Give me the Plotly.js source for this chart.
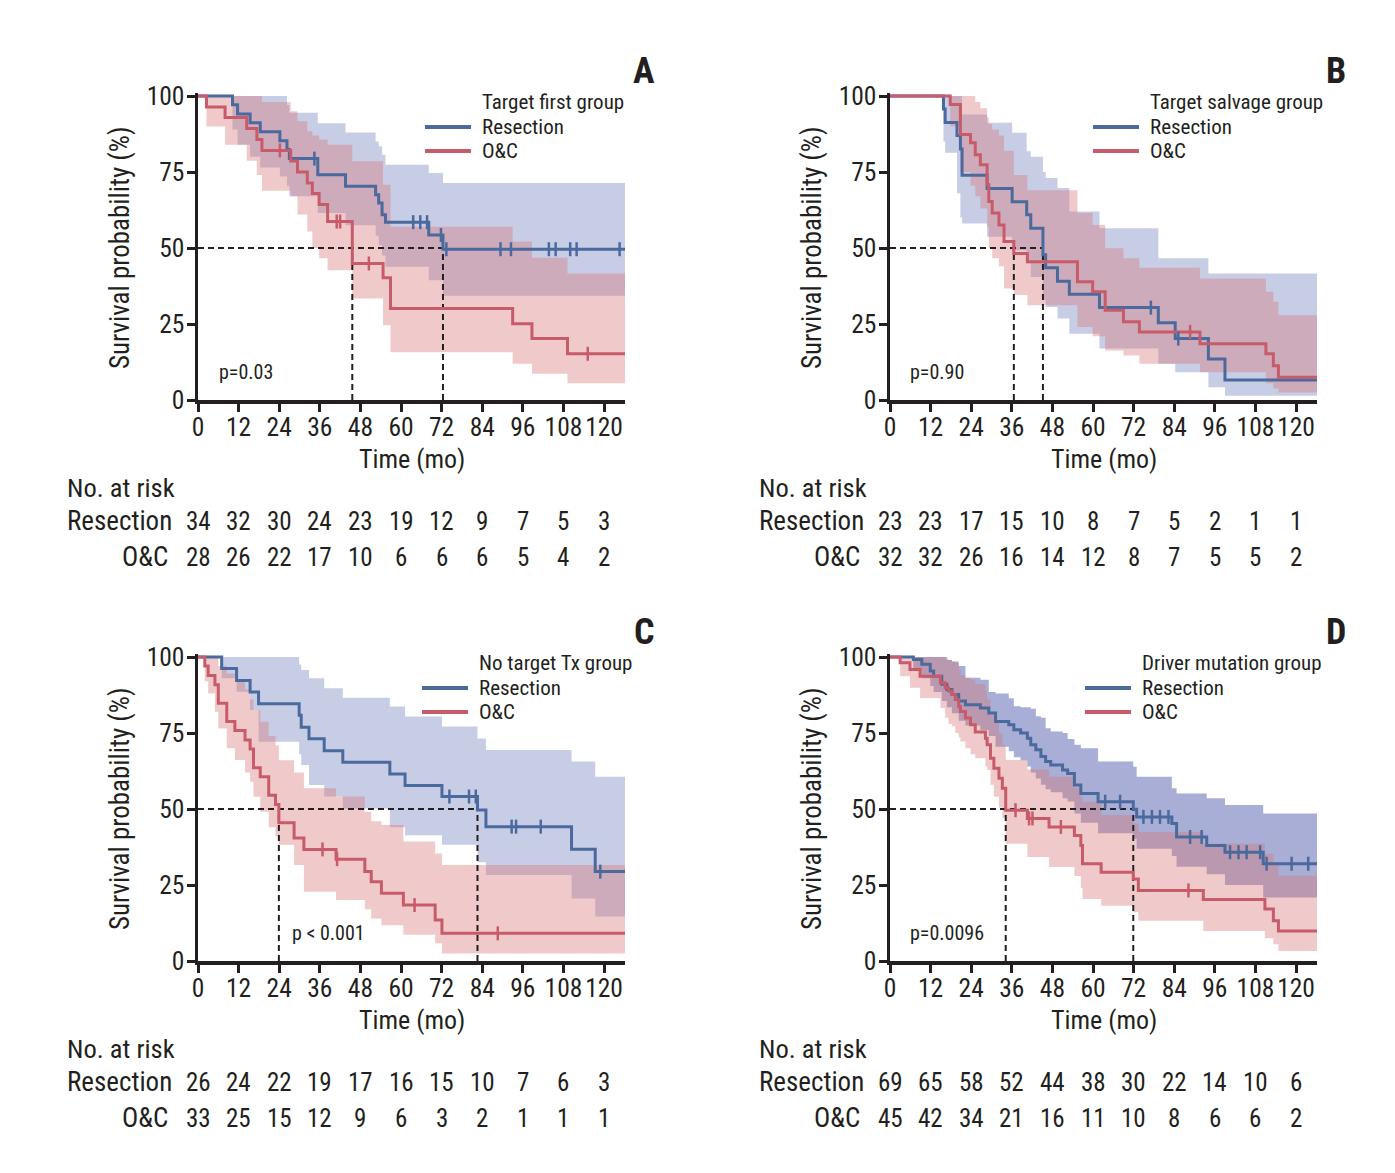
<!DOCTYPE html>
<html><head><meta charset="utf-8">
<script src="https://cdn.plot.ly/plotly-3.0.1.min.js"></script>
<style>html,body{margin:0;padding:0;background:#fff}#chart{width:1395px;height:1173px}</style>
</head><body><div id="chart"></div>
<script>
// ---------------- DATA ----------------
const monthTicks = [0, 12, 24, 36, 48, 60, 72, 84, 96, 108, 120];
const survTicks = [0, 25, 50, 75, 100];
const panelLetters = ['A', 'B', 'C', 'D'];
const groupTitles = ['Target first group', 'Target salvage group', 'No target Tx group', 'Driver mutation group'];
const armNames = ['Resection', 'O&C'];
const pValues = ['p=0.03', 'p=0.90', 'p < 0.001', 'p=0.0096'];
const followUpEnd = 126.2;

// Panel A - Target first group
const A_res_t  = [0, 10.2, 11.7, 15.4, 18.4, 24.2, 26.3, 27.0, 35.4, 43.6, 52.5, 53.4, 54.4, 55.4, 68.2, 72.4];
const A_res_s  = [100, 97.1, 94.1, 91.2, 88.2, 85.3, 82.4, 79.4, 74.1, 70.3, 67.5, 64.8, 60.9, 58.5, 54.3, 49.6];
const A_res_hi = [100, 100, 100, 100, 100, 100, 97, 94.5, 91, 88, 85, 83.5, 80.7, 77.4, 74.7, 71.4];
const A_res_lo = [100, 89, 84, 80, 76.5, 73.5, 70.5, 67, 61.5, 57.5, 54, 51, 47.5, 43.8, 39.4, 34.3];
const A_res_cens = [34.4, 63.6, 65.7, 67.7, 71.8, 73.4, 89.4, 92.5, 103.7, 105.7, 110.0, 111.9, 124.6];
const A_oc_t  = [0, 2.5, 8.0, 14.4, 17.4, 18.9, 27.4, 29.4, 32.3, 33.8, 35.8, 38.3, 45.6, 54.7, 56.9, 93.0, 98.7, 109.2];
const A_oc_s  = [100, 96.4, 92.9, 89.3, 85.7, 82.1, 78.6, 75.0, 71.4, 67.9, 64.3, 58.7, 44.9, 40.2, 30.1, 25.1, 20.2, 15.2];
const A_oc_hi = [100, 100, 100, 100, 100, 98, 95, 91.7, 88.4, 87, 85.7, 84, 78.5, 70.8, 57, 52.1, 46.8, 41.6];
const A_oc_lo = [100, 90, 84, 78.7, 74, 68.8, 67, 61, 55.4, 50, 46.6, 42.7, 33.4, 24.6, 15.7, 11.9, 8.6, 5.5];
const A_oc_cens = [24.2, 41.0, 42.0, 50.5, 115.2];
const A_res_risk = [34, 32, 30, 24, 23, 19, 12, 9, 7, 5, 3];
const A_oc_risk  = [28, 26, 22, 17, 10, 6, 6, 6, 5, 4, 2];

// Panel B - Target salvage group
const B_res_t  = [0, 15.8, 16.3, 19.8, 20.8, 21.3, 28.7, 36.1, 40.4, 41.6, 45.2, 46.0, 49.5, 53.0, 61.9, 79.3, 84.3, 94.1, 99.0];
const B_res_s  = [100, 95.7, 91.3, 87.0, 82.6, 73.9, 69.6, 65.2, 60.9, 56.5, 47.8, 43.5, 39.1, 34.8, 30.4, 25.4, 20.2, 13.5, 6.6];
const B_res_hi = [100, 100, 100, 100, 100, 93.9, 91.2, 87.9, 81.8, 80, 75, 73, 69.7, 62, 56.5, 46.6, 46.6, 41.6, 41.6];
const B_res_lo = [100, 85, 81.3, 68, 60, 58.1, 53.7, 49.3, 44.9, 40.5, 33, 30.6, 26.8, 21.8, 16.9, 11.9, 9.1, 4.2, 1.4];
const B_res_cens = [77.1, 85.2];
const B_oc_t  = [0, 17.8, 20.8, 23.8, 25.2, 26.7, 28.7, 29.2, 30.2, 32.2, 33.7, 36.6, 40.6, 55.4, 59.9, 63.6, 69.0, 73.7, 91.6, 111.1, 113.3, 114.8];
const B_oc_s  = [100, 97.2, 87.3, 84.6, 80.7, 77.4, 70.8, 65.3, 61.5, 57.6, 52.1, 48.2, 45.5, 38.9, 35.6, 29.5, 25.7, 22.4, 18.5, 15.2, 11.3, 7.5];
const B_oc_hi = [100, 100, 100, 100, 98, 96, 93, 90.8, 89, 87, 82, 74, 69, 61.5, 57.6, 49.9, 46.6, 43.5, 40.0, 35.6, 32.3, 27.9];
const B_oc_lo = [100, 90, 75, 70.5, 67, 63, 57, 50, 46.6, 44, 36.7, 34.5, 31.2, 24, 21, 16.3, 14.6, 11.9, 9.1, 5.5, 3.8, 2.5];
const B_oc_cens = [88.7];
const B_res_risk = [23, 23, 17, 15, 10, 8, 7, 5, 2, 1, 1];
const B_oc_risk  = [32, 32, 26, 16, 14, 12, 8, 7, 5, 5, 2];

// Panel C - No target Tx group
const C_res_t  = [0, 7.0, 11.4, 15.4, 17.9, 29.9, 30.5, 32.8, 37.3, 42.8, 56.7, 61.2, 72.1, 82.6, 85.1, 110.4, 117.4];
const C_res_s  = [100, 96.2, 92.3, 88.5, 84.6, 80.8, 76.9, 73.1, 69.2, 65.4, 61.5, 57.7, 54.1, 49.7, 44.2, 36.8, 29.4];
const C_res_hi = [100, 100, 100, 100, 100, 97.5, 95.7, 93, 89.7, 86.6, 83.7, 80.4, 77.1, 73.2, 69.4, 65.6, 60.6];
const C_res_lo = [100, 93, 88.6, 82.6, 72.1, 68, 64.5, 57.9, 54.1, 50.2, 44, 41.4, 38.2, 32.5, 28.3, 20.6, 14.6];
const C_res_cens = [74.3, 80.1, 82.1, 92.7, 94.0, 101.3, 118.9];
const C_oc_t  = [0, 2.0, 3.0, 5.0, 6.0, 8.5, 10.9, 13.9, 15.4, 16.4, 18.4, 20.9, 22.9, 23.9, 28.4, 31.3, 40.8, 49.3, 51.2, 54.2, 60.7, 70.1, 72.1];
const C_oc_s  = [100, 97.0, 93.9, 90.9, 84.8, 78.8, 75.8, 72.7, 69.7, 63.6, 60.6, 54.5, 51.5, 45.5, 40.5, 36.7, 33.5, 29.4, 26.1, 22.3, 18.4, 13.5, 9.1];
const C_oc_hi = [100, 100, 100, 100, 97, 94.6, 92.8, 89.3, 86, 82.6, 78.7, 74, 71, 66, 62, 56.8, 54.1, 49, 46, 44.7, 39.3, 35.4, 31.6];
const C_oc_lo = [100, 92, 88, 82, 76.5, 70, 66.1, 62, 59, 54, 49.1, 44, 41, 38.2, 31.6, 22.8, 20.1, 17, 14, 11.8, 8.6, 5.8, 2.5];
const C_oc_cens = [36.8, 41.1, 64.0, 88.6];
const C_res_risk = [26, 24, 22, 19, 17, 16, 15, 10, 7, 6, 3];
const C_oc_risk  = [33, 25, 15, 12, 9, 6, 3, 2, 1, 1, 1];

// Panel D - Driver mutation group
const D_res_t  = [0, 6.9, 9.4, 11.9, 12.9, 15.3, 16.8, 18.3, 20.3, 22.3, 26.7, 29.2, 31.2, 35.1, 36.6, 38.6, 40.6, 41.6, 43.1, 44.6, 46.0, 47.5, 51.0, 52.5, 54.5, 56.4, 61.5, 71.9, 72.9, 83.3, 84.7, 93.6, 99.0, 110.3];
const D_res_s  = [100, 99.2, 97.6, 95.4, 93.7, 91.0, 89.3, 87.7, 85.5, 84.3, 83.2, 81.6, 78.8, 77.7, 76.1, 75.0, 73.3, 71.1, 69.5, 67.3, 65.6, 64.5, 62.8, 61.7, 57.9, 55.1, 52.4, 49.9, 47.4, 45.2, 40.8, 38.0, 35.8, 32.0];
const D_res_hi = [100, 100, 100, 100, 100, 100, 99, 98.5, 97, 93.2, 92.5, 88.5, 88, 86.4, 83.8, 83.5, 83.5, 83, 80.5, 80, 76.6, 75.5, 75, 73, 71.1, 70, 65.6, 63.9, 60.6, 56.8, 55.1, 53.5, 51.3, 48.5];
const D_res_lo = [100, 95.5, 93, 90.5, 88.5, 85.5, 83.5, 81.5, 79, 77.5, 76, 74, 70.5, 69, 67, 66, 64, 62, 60, 58, 56.5, 55.5, 53.5, 52.5, 48.5, 45.5, 42, 40.2, 36.9, 34.5, 31, 28.5, 25, 20.9];
const D_res_cens = [63.6, 68.0, 74.9, 77.4, 79.8, 82.3, 88.7, 92.1, 100.5, 103.0, 105.4, 109.4, 111.3, 118.7, 123.6];
const D_oc_t  = [0, 3.0, 5.9, 8.9, 14.9, 16.3, 17.3, 18.3, 19.3, 20.3, 20.8, 22.3, 23.8, 25.2, 28.2, 28.7, 29.7, 30.7, 32.2, 33.2, 34.2, 40.6, 47.0, 54.5, 56.4, 56.9, 62.4, 71.9, 73.4, 92.6, 110.8, 113.3, 114.8];
const D_oc_s  = [100, 98.1, 95.9, 93.7, 91.5, 89.9, 88.8, 87.7, 86.0, 83.8, 82.1, 79.9, 77.7, 75.3, 73.3, 71.1, 66.7, 63.4, 60.1, 56.8, 49.6, 46.9, 44.1, 41.3, 38.0, 32.0, 29.2, 27.0, 23.2, 20.2, 17.1, 13.2, 9.9];
const D_oc_hi = [100, 100, 100, 100, 100, 99.5, 99, 98.5, 98, 96, 94, 93.2, 92.5, 91, 89, 86, 82, 79, 75, 71, 66.1, 63, 60.6, 57, 54, 52.4, 48, 45.2, 42.4, 38.6, 35.3, 31.5, 28.1];
const D_oc_lo = [100, 93.7, 89.9, 86.5, 83.2, 80, 78, 77.2, 75, 73.5, 72.2, 70, 68, 66.7, 64, 62.8, 58, 54, 50.5, 47, 38.6, 34.2, 30.9, 28, 24, 20.4, 18.2, 16, 13.2, 9.9, 7.5, 5.5, 3.3];
const D_oc_cens = [37.1, 41.1, 42.1, 50.5, 88.2];
const D_res_risk = [69, 65, 58, 52, 44, 38, 30, 22, 14, 10, 6];
const D_oc_risk  = [45, 42, 34, 21, 16, 11, 10, 8, 6, 6, 2];

// ---------------- STYLE / LAYOUT ----------------
const W = 1395, H = 1173;
const FONT = 'Roboto Condensed, Liberation Sans Narrow, Open Sans Condensed, DejaVu Sans Condensed, Arial Narrow, sans-serif';
const INK = '#231f20';
const BLUE = '#4a6a9e', RED = '#c75b69';
const BLUE_FILL = ['rgba(125,135,195,0.42)', 'rgba(125,135,195,0.42)', 'rgba(125,135,195,0.42)', 'rgba(110,120,185,0.60)'];
const RED_FILL = 'rgba(215,115,115,0.38)';

const panels = [
  {xl: 198, xr: 625, yb: 400, leg: 425, res: [A_res_t, A_res_s, A_res_lo, A_res_hi, A_res_cens], oc: [A_oc_t, A_oc_s, A_oc_lo, A_oc_hi, A_oc_cens], risk: [A_res_risk, A_oc_risk], p: [217, 372]},
  {xl: 890, xr: 1317, yb: 400, leg: 1093, res: [B_res_t, B_res_s, B_res_lo, B_res_hi, B_res_cens], oc: [B_oc_t, B_oc_s, B_oc_lo, B_oc_hi, B_oc_cens], risk: [B_res_risk, B_oc_risk], p: [908, 372]},
  {xl: 198, xr: 625, yb: 961, leg: 422, res: [C_res_t, C_res_s, C_res_lo, C_res_hi, C_res_cens], oc: [C_oc_t, C_oc_s, C_oc_lo, C_oc_hi, C_oc_cens], risk: [C_res_risk, C_oc_risk], p: [290, 933]},
  {xl: 890, xr: 1317, yb: 961, leg: 1085, res: [D_res_t, D_res_s, D_res_lo, D_res_hi, D_res_cens], oc: [D_oc_t, D_oc_s, D_oc_lo, D_oc_hi, D_oc_cens], risk: [D_res_risk, D_oc_risk], p: [908, 933]}
];
const YMAX = 101, PX_PER_PCT = 3.04;

const px = p => p / W;
const py = p => 1 - p / H;
const stepAt = (T, S, t) => { let v = S[0]; for (let i = 0; i < T.length; i++) if (T[i] <= t) v = S[i]; return v; };
const median = (T, S) => { for (let i = 0; i < T.length; i++) if (S[i] <= 50) return T[i]; return null; };

const traces = [], annotations = [], shapes = [];
const layout = {width: W, height: H, margin: {l: 0, r: 0, t: 0, b: 0}, paper_bgcolor: '#fff', plot_bgcolor: 'rgba(0,0,0,0)', showlegend: false, font: {family: FONT, color: INK}};
const txt = (text, x, y, opts) => Object.assign({text, x: px(x), y: py(y), xref: 'paper', yref: 'paper', showarrow: false, xanchor: 'left', yanchor: 'middle', font: {family: FONT, size: 26.5, color: INK}}, opts || {});

panels.forEach((P, i) => {
  const sfx = i === 0 ? '' : String(i + 1);
  const xa = 'x' + sfx, ya = 'y' + sfx;
  const ytop = P.yb - YMAX * PX_PER_PCT;
  layout['xaxis' + sfx] = {domain: [px(P.xl), px(P.xr)], range: [0, followUpEnd], anchor: ya, tickvals: monthTicks, tickangle: 0, ticks: 'outside', ticklen: 8, tickwidth: 3, tickcolor: INK, showline: true, linecolor: INK, linewidth: 3.5, showgrid: false, zeroline: false, tickfont: {family: FONT, size: 25.5, color: INK}, ticklabelstandoff: -6, fixedrange: true};
  layout['yaxis' + sfx] = {domain: [py(P.yb), py(ytop)], range: [0, YMAX], anchor: xa, tickvals: survTicks, tickangle: 0, ticks: 'outside', ticklen: 8, tickwidth: 3, tickcolor: INK, showline: true, linecolor: INK, linewidth: 3.5, showgrid: false, zeroline: false, tickfont: {family: FONT, size: 25.5, color: INK}, ticklabelstandoff: -3, fixedrange: true};

  const arms = [[P.res, BLUE, BLUE_FILL[i]], [P.oc, RED, RED_FILL]];
  arms.forEach(([A, col, fillc]) => {
    const [T, S, LO, HI] = A;
    const xs = T.concat([followUpEnd]);
    traces.push({x: xs, y: LO.concat([LO[LO.length - 1]]), xaxis: xa, yaxis: ya, mode: 'lines', line: {width: 0, shape: 'hv'}, hoverinfo: 'skip'});
    traces.push({x: xs, y: HI.concat([HI[HI.length - 1]]), xaxis: xa, yaxis: ya, mode: 'lines', line: {width: 0, shape: 'hv'}, fill: 'tonexty', fillcolor: fillc, hoverinfo: 'skip'});
  });
  const meds = arms.map(([A]) => median(A[0], A[1])).filter(m => m !== null);
  const dash = {color: INK, width: 2, dash: '6px,4px'};
  traces.push({x: [0, Math.max(...meds)], y: [50, 50], xaxis: xa, yaxis: ya, mode: 'lines', line: dash, hoverinfo: 'skip'});
  meds.forEach(m => traces.push({x: [m, m], y: [0, 50], xaxis: xa, yaxis: ya, mode: 'lines', line: dash, hoverinfo: 'skip'}));
  arms.forEach(([A, col]) => {
    const [T, S] = A;
    traces.push({x: T.concat([followUpEnd]), y: S.concat([S[S.length - 1]]), xaxis: xa, yaxis: ya, mode: 'lines', line: {color: col, width: 3, shape: 'hv'}, hoverinfo: 'skip'});
  });
  arms.forEach(([A, col]) => {
    const [T, S, , , C] = A;
    traces.push({x: C, y: C.map(t => stepAt(T, S, t)), xaxis: xa, yaxis: ya, mode: 'markers', marker: {symbol: 'line-ns-open', size: 10, color: col, line: {color: col, width: 2.5}}, hoverinfo: 'skip'});
  });

  annotations.push(txt('<b>' + panelLetters[i] + '</b>', P.xr + 19, P.yb - 329, {xanchor: 'center', font: {family: FONT, size: 36, color: INK}}));
  const lx = P.leg;
  annotations.push(txt(groupTitles[i], lx + 55, P.yb - 298, {font: {family: FONT, size: 21, color: INK}}));
  [[BLUE, armNames[0], 273], [RED, armNames[1], 249]].forEach(([col, name, dy]) => {
    shapes.push({type: 'line', xref: 'paper', yref: 'paper', x0: px(lx), x1: px(lx + 46), y0: py(P.yb - dy), y1: py(P.yb - dy), line: {color: col, width: 4}});
    annotations.push(txt(name, lx + 55, P.yb - dy, {font: {family: FONT, size: 21, color: INK}}));
  });
  annotations.push(txt(pValues[i], P.p[0], P.p[1], {font: {family: FONT, size: 20, color: INK}}));
  annotations.push(txt('Time (mo)', (P.xl + P.xr) / 2, P.yb + 59, {xanchor: 'center', font: {family: FONT, size: 26, color: INK}}));
  annotations.push(txt('Survival probability (%)', P.xl - 78, P.yb - 152, {xanchor: 'center', textangle: -90, font: {family: FONT, size: 27, color: INK}}));
  annotations.push(txt('No. at risk', P.xl - 133, P.yb + 87));
  annotations.push(txt(armNames[0], P.xl - 133, P.yb + 121, {font: {family: FONT, size: 27, color: INK}}));
  annotations.push(txt(armNames[1], P.xl - 28, P.yb + 157, {xanchor: 'right', font: {family: FONT, size: 27, color: INK}}));
  P.risk.forEach((row, r) => {
    row.forEach((n, k) => {
      annotations.push({text: String(n), x: monthTicks[k], y: py(P.yb + (r === 0 ? 121 : 157)), xref: xa, yref: 'paper', showarrow: false, xanchor: 'center', yanchor: 'middle', font: {family: FONT, size: 25, color: INK}});
    });
  });
});
layout.annotations = annotations;
layout.shapes = shapes;
Plotly.newPlot('chart', traces, layout, {staticPlot: true, displayModeBar: false});
</script></body></html>
